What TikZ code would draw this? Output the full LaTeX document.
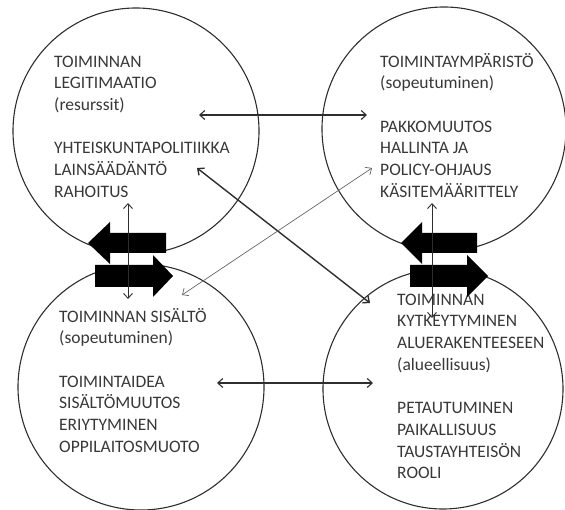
\documentclass[tikz,border=0pt]{standalone}
\usepackage{fontspec}
\setmainfont{Carlito}
\usepackage{tikz}
\usetikzlibrary{arrows.meta}
\definecolor{inkgray}{HTML}{2E2E2E}
\definecolor{textgray}{HTML}{383838}

\begin{document}
\begin{tikzpicture}[x=1pt,y=-1pt,
    >={Straight Barb[length=5pt,width=9pt]},
    ring/.style={circle,draw=inkgray,line width=1.1pt,inner sep=0pt},
    boxtext/.style={anchor=north west,inner sep=0pt,align=left,text=textgray,
      font=\fontsize{17.5}{21.7}\selectfont},
    link/.style={<->,draw=inkgray,line width=1.1pt},
    blockarrow/.style={fill=black,draw=none}]
  \useasboundingbox (0,0) rectangle (565,510);

  % circles
  \node[ring,minimum size=246pt] (legit) at (136,131) {};
  \node[ring,minimum size=244pt] (ymp) at (444,129) {};
  \node[ring,minimum size=246pt] (sisalto) at (141,387) {};
  \node[ring,minimum size=240pt] (alue) at (443,389) {};

  % texts
  \node[boxtext] (legittext) at (54,51.8) {\strut TOIMINNAN\\ LEGITIMAATIO\\ (resurssit)\\[21.7pt]
    YHTEISKUNTAPOLITIIKKA\\ LAINSÄÄDÄNTÖ\\ RAHOITUS};
  \node[boxtext] (ymptext) at (380,51.8) {\strut TOIMINTAYMPÄRISTÖ\\ (sopeutuminen)\\[21.7pt]
    PAKKOMUUTOS\\ HALLINTA JA\\ POLICY-OHJAUS\\ KÄSITEMÄÄRITTELY};
  \node[boxtext] (sisaltotext) at (59,306.8) {\strut TOIMINNAN SISÄLTÖ\\ (sopeutuminen)\\[21.7pt]
    TOIMINTAIDEA\\ SISÄLTÖMUUTOS\\ ERIYTYMINEN\\ OPPILAITOSMUOTO};
  \node[boxtext] (aluetext) at (397,289.8) {\strut TOIMINNAN\\ KYTKEYTYMINEN\\ ALUERAKENTEESEEN\\ (alueellisuus)\\[21.7pt]
    PETAUTUMINEN\\ PAIKALLISUUS\\ TAUSTAYHTEISÖN\\ ROOLI};

  % block arrows between the upper and lower circles
  \fill[white] (95,253) rectangle (166,265);
  \fill[white] (410,253) rectangle (477,265);
  \fill[blockarrow] (166,233) -- (110,233) -- (110,222) -- (88,243) -- (110,264) -- (110,253) -- (166,253) -- cycle;
  \fill[blockarrow] (95,265) -- (153,265) -- (153,255) -- (173,276) -- (153,297) -- (153,287) -- (95,287) -- cycle;
  \fill[blockarrow] (477,233) -- (422,233) -- (422,222) -- (401,243) -- (422,264) -- (422,253) -- (477,253) -- cycle;
  \fill[blockarrow] (410,265) -- (467,265) -- (467,255) -- (488,276) -- (467,297) -- (467,287) -- (410,287) -- cycle;

  % arrow ends
  \coordinate (legitE) at (199,115);
  \coordinate (ympW) at (367,115);
  \coordinate (sisaltoE) at (217,383);
  \coordinate (alueW) at (373,383);
  \coordinate (legitSE) at (197,168);
  \coordinate (alueNW) at (370,303);
  \coordinate (sisaltoNE) at (182,295);
  \coordinate (ympSW) at (372,168);
  \coordinate (legitS) at (128,203);
  \coordinate (sisaltoN) at (128,299);
  \coordinate (ympS) at (432,203);
  \coordinate (alueN) at (432,318);

  % connections
  \draw[link] (legitE) -- (ympW);
  \draw[link] (sisaltoE) -- (alueW);
  \draw[link,line width=1.4pt] (legitSE) -- (alueNW);
  \draw[link,draw=black!60,line width=0.7pt] (sisaltoNE) -- (ympSW);
  \draw[link,line width=0.9pt] (legitS) -- (sisaltoN);
  \draw[link,line width=0.9pt] (ympS) -- (alueN);
\end{tikzpicture}
\end{document}
